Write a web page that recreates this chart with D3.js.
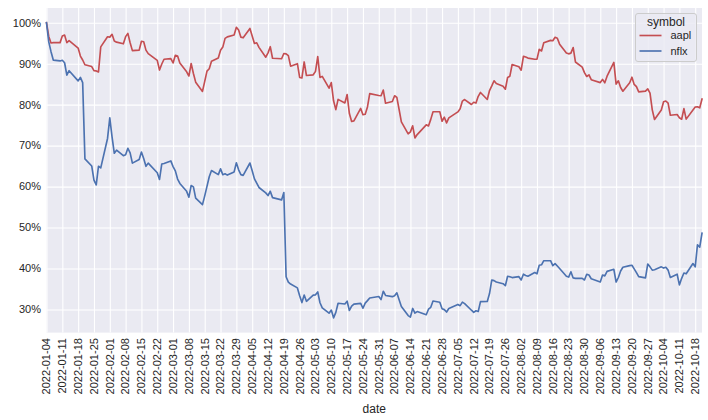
<!DOCTYPE html>
<html><head><meta charset="utf-8">
<script src="https://cdn.jsdelivr.net/npm/d3@7"></script>
<style>
html,body{margin:0;padding:0;background:#fff;}
svg text{font-family:"Liberation Sans",Arial,sans-serif;fill:#262626;}
</style></head>
<body><svg id="chart" width="708" height="420"></svg>
<script>
// trading days of 2022 (month-day)
const tradingDays = [
"01-04","01-05","01-06","01-07","01-10","01-11","01-12","01-13","01-14","01-18","01-19","01-20","01-21","01-24","01-25","01-26","01-27","01-28","01-31",
"02-01","02-02","02-03","02-04","02-07","02-08","02-09","02-10","02-11","02-14","02-15","02-16","02-17","02-18","02-22","02-23","02-24","02-25","02-28",
"03-01","03-02","03-03","03-04","03-07","03-08","03-09","03-10","03-11","03-14","03-15","03-16","03-17","03-18","03-21","03-22","03-23","03-24","03-25","03-28","03-29","03-30","03-31",
"04-01","04-04","04-05","04-06","04-07","04-08","04-11","04-12","04-13","04-14","04-18","04-19","04-20","04-21","04-22","04-25","04-26","04-27","04-28","04-29",
"05-02","05-03","05-04","05-05","05-06","05-09","05-10","05-11","05-12","05-13","05-16","05-17","05-18","05-19","05-20","05-23","05-24","05-25","05-26","05-27","05-31",
"06-01","06-02","06-03","06-06","06-07","06-08","06-09","06-10","06-13","06-14","06-15","06-16","06-17","06-21","06-22","06-23","06-24","06-27","06-28","06-29","06-30",
"07-01","07-05","07-06","07-07","07-08","07-11","07-12","07-13","07-14","07-15","07-18","07-19","07-20","07-21","07-22","07-25","07-26","07-27","07-28","07-29",
"08-01","08-02","08-03","08-04","08-05","08-08","08-09","08-10","08-11","08-12","08-15","08-16","08-17","08-18","08-19","08-22","08-23","08-24","08-25","08-26","08-29","08-30","08-31",
"09-01","09-02","09-06","09-07","09-08","09-09","09-12","09-13","09-14","09-15","09-16","09-19","09-20","09-21","09-22","09-23","09-26","09-27","09-28","09-29","09-30",
"10-03","10-04","10-05","10-06","10-07","10-10","10-11","10-12","10-13","10-14","10-17","10-18","10-19","10-20","10-21"];

// normalized price, % of first day
const aapl = [
100,96.66,95.05,95.14,95.15,96.75,97.00,95.15,95.64,93.83,91.86,90.91,89.75,89.31,88.29,88.24,87.98,94.12,96.58,
96.49,97.17,95.54,95.26,94.86,96.61,97.41,95.11,93.19,93.32,95.48,95.35,93.32,92.45,90.80,88.45,89.93,91.09,91.24,
90.18,92.04,91.86,90.17,88.03,87.00,90.05,87.60,85.50,83.23,85.70,88.19,88.76,90.61,91.39,93.29,94.06,96.19,96.55,97.03,98.89,98.23,96.49,
96.32,98.60,96.74,94.95,95.12,93.99,91.59,92.65,94.16,91.34,91.22,92.50,92.41,91.96,89.40,90.01,86.65,86.52,90.43,87.12,
87.29,88.13,91.74,86.63,86.91,84.03,85.38,80.95,78.78,81.29,80.42,82.47,77.82,75.90,76.03,79.08,77.56,77.65,79.45,82.69,82.25,
82.18,83.56,80.34,80.76,82.18,81.76,78.82,75.78,72.88,73.36,74.84,71.87,72.70,75.08,74.79,76.41,78.28,78.28,75.95,76.94,75.55,
76.77,78.23,78.98,80.87,81.25,80.05,80.60,80.40,82.04,82.98,81.27,83.44,84.57,85.84,85.15,84.52,83.77,86.64,86.95,89.80,
89.25,88.42,91.80,91.63,91.37,91.10,91.13,93.52,93.11,95.10,95.70,95.62,96.46,96.23,94.78,92.60,92.41,92.58,93.96,90.42,89.18,87.81,86.88,
87.29,86.10,85.39,86.18,85.35,86.96,90.31,85.01,85.82,84.20,83.28,85.36,86.70,84.94,84.40,83.13,83.31,83.86,82.80,78.73,76.37,
78.72,80.73,80.90,80.36,77.41,77.60,76.80,76.45,79.02,76.47,78.69,79.43,79.50,79.24,81.38];

const nflx = [
100,95.33,92.94,90.89,90.68,90.85,90.24,87.21,88.30,85.80,86.65,85.38,66.77,65.03,61.55,60.42,64.96,64.56,71.75,
76.79,72.14,68.13,68.90,67.54,67.78,69.36,68.24,65.73,66.62,68.44,66.87,64.95,65.73,63.39,61.73,65.52,65.65,66.27,
64.88,63.84,61.83,60.76,58.84,57.41,60.27,59.93,57.17,55.60,57.74,60.06,62.39,63.93,62.92,64.32,62.91,63.11,62.80,63.58,65.82,64.08,62.92,
62.74,65.76,63.86,61.88,60.83,59.78,58.46,57.80,58.86,57.30,56.75,58.56,37.99,36.66,36.20,35.26,33.33,31.67,33.52,31.98,
33.51,33.57,34.27,31.63,30.40,29.08,29.84,27.95,29.28,31.52,31.33,32.01,29.76,30.82,31.30,31.49,30.29,31.55,32.15,32.79,33.17,
32.40,34.45,33.42,33.12,33.36,34.07,32.38,30.73,28.50,28.14,30.25,29.12,29.48,28.71,30.05,30.52,32.06,31.77,30.17,29.96,29.37,
30.23,31.22,30.92,31.79,31.41,29.81,29.30,29.67,29.5,31.9,31.96,33.87,37.2,37.03,36.70,36.28,35.8,38.09,37.97,37.78,
38.0,37.2,38.6,38.3,38.1,39.0,38.7,40.8,40.9,41.9,41.9,40.7,41.2,40.6,40.0,38.1,37.9,39.2,37.7,37.6,37.6,37.2,38.6,
38.4,37.5,36.7,38.4,38.2,39.3,39.8,36.7,37.8,39.4,40.3,40.7,40.8,39.9,39.0,38.0,37.7,41.1,40.4,39.6,39.7,
40.4,40.1,40.3,39.6,37.8,38.6,36.0,37.6,38.9,38.7,41.2,40.4,45.8,45.2,48.6];

const symbols = ["aapl", "nflx"];
const seriesColors = ["#c44e52", "#4c72b0"];
const yTicks = [30, 40, 50, 60, 70, 80, 90, 100];
const xTickLabels = [
"2022-01-04","2022-01-11","2022-01-18","2022-01-25","2022-02-01","2022-02-08","2022-02-15","2022-02-22",
"2022-03-01","2022-03-08","2022-03-15","2022-03-22","2022-03-29","2022-04-05","2022-04-12","2022-04-19",
"2022-04-26","2022-05-03","2022-05-10","2022-05-17","2022-05-24","2022-05-31","2022-06-07","2022-06-14",
"2022-06-21","2022-06-28","2022-07-05","2022-07-12","2022-07-19","2022-07-26","2022-08-02","2022-08-09",
"2022-08-16","2022-08-23","2022-08-30","2022-09-06","2022-09-13","2022-09-20","2022-09-27","2022-10-04",
"2022-10-11","2022-10-18"];

const parse = d3.utcParse("%Y-%m-%d");
const dates = tradingDays.map(d => parse("2022-" + d));
const series = [aapl, nflx].map((vals, i) => ({
  name: symbols[i], color: seriesColors[i],
  values: vals.map((v, j) => ({date: dates[j], v}))
}));

const L = 46.5, R = 702, T = 8, B = 332.6;
const svg = d3.select("#chart");

const x = d3.scaleUtc().domain(d3.extent(dates)).range([L, R]);
const allVals = aapl.concat(nflx);
const lo = d3.min(allVals), hi = d3.max(allVals), pad = (hi - lo) * 0.05;
const y = d3.scaleLinear().domain([lo - pad, hi + pad]).range([B, T]);

svg.append("rect").attr("x", L).attr("y", T).attr("width", R - L).attr("height", B - T).attr("fill", "#eaeaf2");

const xt = xTickLabels.map(parse);
// grid via axes
const gx = svg.append("g").attr("transform", `translate(0,${B})`)
  .call(d3.axisBottom(x).tickValues(xt).tickSize(-(B - T)).tickFormat(""));
gx.select(".domain").remove();
gx.selectAll("line").attr("stroke", "#fff").attr("stroke-width", 1.1);

const gy = svg.append("g").attr("transform", `translate(${L},0)`)
  .call(d3.axisLeft(y).tickValues(yTicks).tickSize(-(R - L)).tickFormat(""));
gy.select(".domain").remove();
gy.selectAll("line").attr("stroke", "#fff").attr("stroke-width", 1.1);

// lines
const line = d3.line().x(d => x(d.date)).y(d => y(d.v));
svg.append("g").selectAll("path").data(series).join("path")
  .attr("d", d => line(d.values)).attr("fill", "none")
  .attr("stroke", d => d.color).attr("stroke-width", 1.65)
  .attr("stroke-linejoin", "round").attr("stroke-linecap", "square");

// y tick labels
svg.append("g").selectAll("text").data(yTicks).join("text")
  .attr("x", L - 5.5).attr("y", d => y(d)).attr("dy", "0.35em")
  .attr("text-anchor", "end").attr("font-size", 11).text(d => d + "%");

// x tick labels
svg.append("g").selectAll("text").data(xt).join("text")
  .attr("transform", d => `translate(${x(d)},${B + 5.5}) rotate(-90)`)
  .attr("dy", "0.35em").attr("text-anchor", "end").attr("font-size", 11)
  .text(d => d3.utcFormat("%Y-%m-%d")(d));

// axis label
svg.append("text").attr("x", (L + R) / 2).attr("y", 413).attr("text-anchor", "middle")
  .attr("font-size", 12).text("date");

// legend
const lg = svg.append("g");
const bx = 635.5, by = 13.5, bw = 61, bh = 48;
lg.append("rect").attr("x", bx).attr("y", by).attr("width", bw).attr("height", bh)
  .attr("rx", 2.5).attr("fill", "#eaeaf2").attr("fill-opacity", 0.8)
  .attr("stroke", "#cccccc").attr("stroke-width", 1);
lg.append("text").attr("x", bx + bw / 2).attr("y", by + 12.5).attr("text-anchor", "middle")
  .attr("font-size", 12).text("symbol");
series.forEach((s, i) => {
  const cy = by + 22 + i * 15.5;
  lg.append("line").attr("x1", bx + 4).attr("x2", bx + 26).attr("y1", cy).attr("y2", cy)
    .attr("stroke", s.color).attr("stroke-width", 1.65);
  lg.append("text").attr("x", bx + 35).attr("y", cy).attr("dy", "0.35em")
    .attr("font-size", 11).text(s.name);
});
</script>
</body></html>
